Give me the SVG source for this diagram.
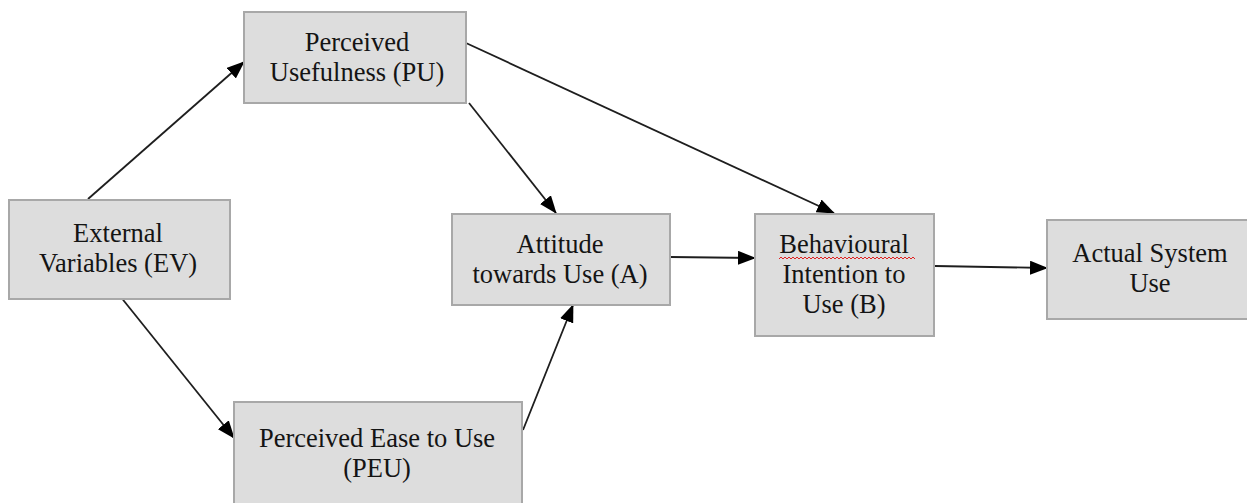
<svg xmlns="http://www.w3.org/2000/svg" width="1247" height="503" viewBox="0 0 1247 503">
<defs>
<style>
.box{fill:#dddddd;stroke:#a8a8a8;stroke-width:2}
.t{font-family:'Liberation Serif','Times New Roman',Times,'DejaVu Serif',serif;font-size:26.5px;fill:#141414;text-anchor:middle}
.c{stroke:#1e1e1e;stroke-width:1.8;fill:none;marker-end:url(#ah)}
</style>
<marker id="ah" markerWidth="18" markerHeight="14" refX="17" refY="7" orient="auto" markerUnits="userSpaceOnUse">
<path d="M0,0 L18,7 L0,14 Z" fill="#000"/>
</marker>
</defs>
<rect width="1247" height="503" fill="#fff"/>
<g id="connectors">
<line class="c" x1="88" y1="199" x2="244" y2="62"/>
<line class="c" x1="466" y1="43" x2="834" y2="213"/>
<line class="c" x1="469" y1="103" x2="556" y2="213"/>
<line class="c" x1="120" y1="296" x2="234" y2="438"/>
<line class="c" x1="523" y1="430" x2="573" y2="305"/>
<line class="c" x1="670" y1="257" x2="755" y2="258"/>
<line class="c" x1="935" y1="266" x2="1047" y2="268"/>
</g>
<g id="pu">
<rect class="box" x="244" y="12" width="222" height="91"/>
<text class="t" x="357" y="51">Perceived</text>
<text class="t" x="357" y="81">Usefulness (PU)</text>
</g>
<g id="ev">
<rect class="box" x="9" y="200" width="221" height="99"/>
<text class="t" x="118" y="242">External</text>
<text class="t" x="118" y="272">Variables (EV)</text>
</g>
<g id="a">
<rect class="box" x="452" y="214" width="218" height="91"/>
<text class="t" x="560" y="253">Attitude</text>
<text class="t" x="560" y="283">towards Use (A)</text>
</g>
<g id="peu">
<rect class="box" x="234" y="402" width="288" height="103"/>
<text class="t" x="377" y="447">Perceived Ease to Use</text>
<text class="t" x="377" y="477">(PEU)</text>
</g>
<g id="b">
<rect class="box" x="755" y="214" width="179" height="122"/>
<text class="t" x="844" y="253">Behavioural</text>
<path d="M779,259 l2,-2 l2,2 l2,-2 l2,2 l2,-2 l2,2 l2,-2 l2,2 l2,-2 l2,2 l2,-2 l2,2 l2,-2 l2,2 l2,-2 l2,2 l2,-2 l2,2 l2,-2 l2,2 l2,-2 l2,2 l2,-2 l2,2 l2,-2 l2,2 l2,-2 l2,2 l2,-2 l2,2 l2,-2 l2,2 l2,-2 l2,2 l2,-2 l2,2 l2,-2 l2,2 l2,-2 l2,2 l2,-2 l2,2 l2,-2 l2,2 l2,-2 l2,2 l2,-2 l2,2 l2,-2 l2,2 l2,-2 l2,2 l2,-2 l2,2 l2,-2 l2,2 l2,-2 l2,2 l2,-2 l2,2 l2,-2 l2,2 l2,-2 l2,2 l2,-2 l2,2 l2,-2 l2,2" fill="none" stroke="#e02020" stroke-width="1"/>
<text class="t" x="844" y="283">Intention to</text>
<text class="t" x="844" y="313">Use (B)</text>
</g>
<g id="asu">
<rect class="box" x="1047" y="220" width="205" height="99"/>
<text class="t" x="1150" y="262">Actual System</text>
<text class="t" x="1150" y="292">Use</text>
</g>
</svg>
